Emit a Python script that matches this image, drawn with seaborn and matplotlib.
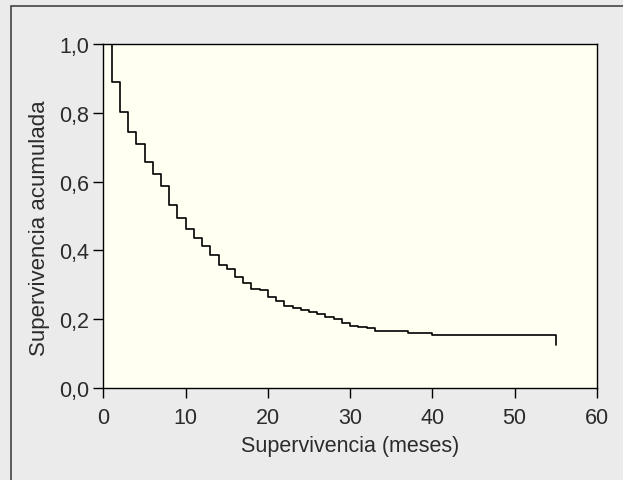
import numpy as np
import pandas as pd
import seaborn as sns
import matplotlib.pyplot as plt
from matplotlib.patches import Rectangle
from matplotlib.ticker import FuncFormatter

# Kaplan-Meier estimate
meses = [0, 1, 2, 3, 4, 5, 6, 7, 8, 9, 10, 11, 12, 13, 14, 15, 16, 17, 18, 19,
         20, 21, 22, 23, 24, 25, 26, 27, 28, 29, 30, 31, 32, 33, 37, 40, 55]
supervivencia = [1.0, 0.891, 0.804, 0.744, 0.710, 0.658, 0.622, 0.588, 0.533,
                 0.495, 0.462, 0.436, 0.412, 0.387, 0.358, 0.345, 0.322, 0.305,
                 0.287, 0.283, 0.264, 0.251, 0.239, 0.232, 0.227, 0.220, 0.215,
                 0.207, 0.201, 0.188, 0.180, 0.177, 0.173, 0.165, 0.158, 0.152,
                 0.123]

df = pd.DataFrame({'meses': meses, 'supervivencia': supervivencia})

sns.set_style("ticks")
plt.rcParams['font.family'] = ['Liberation Sans', 'DejaVu Sans']
txt = '#2b2b2b'

fig = plt.figure(figsize=(6.23, 4.81), dpi=100, facecolor='#ebebeb')
ax = fig.add_axes([0.166, 0.192, 0.792, 0.714])
ax.set_facecolor('#fffff2')

sns.lineplot(data=df, x='meses', y='supervivencia', ax=ax, color='black',
             linewidth=1.2, drawstyle='steps-post', estimator=None)

ax.set_xlim(0, 60)
ax.set_ylim(0, 1.0)
ax.set_xticks(range(0, 61, 10))
ax.set_yticks(np.arange(0, 1.01, 0.2))
ax.yaxis.set_major_formatter(FuncFormatter(lambda v, p: f"{v:.1f}".replace('.', ',')))
ax.tick_params(direction='out', length=7.2, width=1, colors='black',
               labelcolor=txt, labelsize=15.5)
ax.tick_params(axis='y', pad=3.3)
ax.tick_params(axis='x', pad=6.5)
for s in ax.spines.values():
    s.set_visible(True)
    s.set_color('black')
    s.set_linewidth(1)

ax.set_xlabel('Supervivencia (meses)', fontsize=15.5, color=txt, labelpad=5)
ax.set_ylabel('Supervivencia acumulada', fontsize=16, color=txt, labelpad=6,
              y=0.468)

# outer frame, cut off at right and bottom as in the original
fig.patches.append(Rectangle((11 / 623, -0.1), 1.2, 1 - 7 / 481 + 0.1,
                             transform=fig.transFigure, fill=False,
                             edgecolor='#444444', linewidth=1.2))

plt.savefig('out.png', dpi=100, facecolor=fig.get_facecolor())
